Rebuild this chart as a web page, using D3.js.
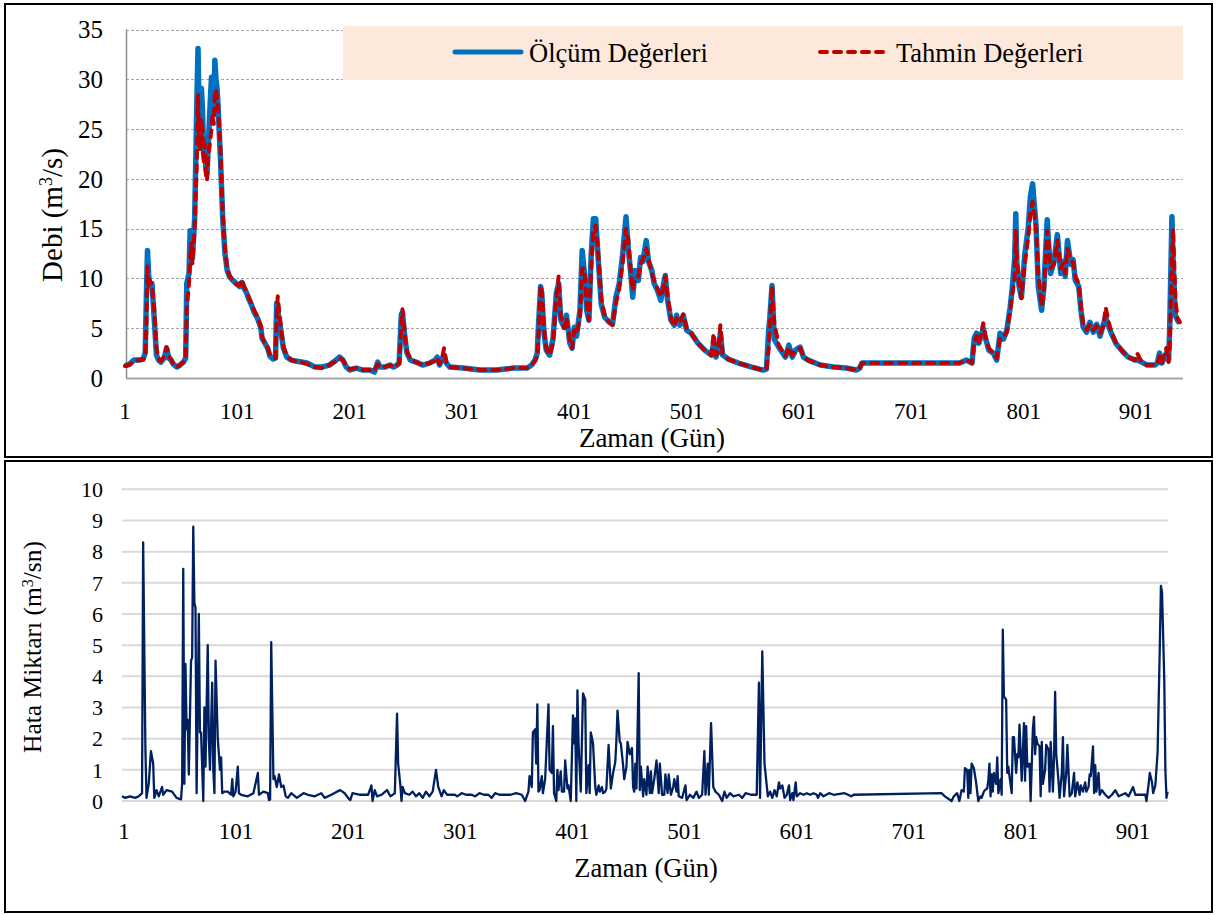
<!DOCTYPE html>
<html>
<head>
<meta charset="utf-8">
<script src="https://cdn.jsdelivr.net/npm/d3@7"></script>
<style>
  body { margin: 0; background: #fff; }
  svg text { font-family: "Liberation Serif", "Times New Roman", serif; fill: #000; }
</style>
</head>
<body>
<svg id="chart" width="1217" height="915"></svg>
<script>
const gun = [1,5,9,14,17,19,20,21,22,23,25,27,29,31,33,36,38,40,42,44,47,50,53,55,56,58,59,60,61,63,65,66,67,68,69,70,71,72,73,74,75,77,78,79,80,81,82,83,84,86,87,88,90,92,94,97,100,103,105,107,109,111,113,116,119,122,123,125,128,130,133,135,136,137,138,140,142,145,149,153,158,163,170,176,183,189,192,195,198,201,207,213,219,223,226,228,232,237,240,243,245,246,247,248,250,252,255,260,266,272,277,279,281,283,285,287,290,302,317,332,347,359,363,366,368,369,371,372,374,376,379,382,385,387,389,392,394,397,399,401,403,406,408,410,412,414,416,418,420,422,425,428,432,435,438,441,444,447,449,451,453,455,458,460,462,465,467,470,472,475,478,480,482,484,487,490,492,495,498,501,505,511,517,523,525,527,529,531,533,538,547,559,569,572,574,575,577,579,583,589,592,595,598,602,605,609,620,632,643,652,655,657,738,744,750,755,757,759,761,763,765,767,770,774,777,780,783,786,789,791,793,794,795,797,799,802,805,807,809,810,812,814,817,819,822,823,825,828,831,834,836,838,840,843,845,847,850,852,854,857,860,863,866,869,872,874,877,879,883,888,894,900,902,906,911,918,920,922,924,926,928,930,931,933,934,936,938,940];
const olcum = [1.2,1.4,1.8,1.8,1.9,2.5,8.0,12.8,10.5,9.2,9.5,6.0,2.3,1.8,1.6,2.0,3.0,2.0,1.8,1.4,1.1,1.3,1.6,2.0,9.5,10.5,14.8,14.0,12.0,16.0,28.0,33.1,26.0,24.0,29.1,27.0,22.5,24.0,21.0,20.5,23.0,28.0,30.2,28.0,26.5,31.9,30.0,29.0,27.0,22.0,19.0,16.0,12.5,10.8,10.2,9.8,9.5,9.2,9.6,9.0,8.6,8.0,7.5,6.6,6.0,5.0,4.0,3.6,3.0,2.2,1.9,2.0,7.5,6.8,6.0,4.5,3.0,2.1,1.8,1.7,1.6,1.5,1.1,1.1,1.3,1.8,2.1,1.8,1.1,0.8,1.0,0.8,0.8,0.6,1.6,1.1,1.1,1.3,1.1,1.3,1.5,3.9,6.4,6.6,4.2,2.5,1.8,1.6,1.3,1.5,1.8,2.1,1.3,1.9,2.3,1.5,1.1,1.0,0.8,0.8,1.0,1.0,1.3,1.8,2.5,5.1,9.2,8.5,4.5,2.8,2.3,3.9,8.5,9.5,5.8,5.1,6.3,3.5,3.0,5.1,4.2,6.8,12.8,10.5,6.8,5.8,12.4,16.0,16.0,12.4,7.4,6.1,5.6,5.4,8.1,9.5,12.4,16.2,13.0,10.8,8.1,10.8,9.8,12.1,11.7,13.8,11.7,10.8,9.5,8.8,7.8,9.2,10.3,7.8,5.8,5.3,6.3,5.3,6.3,4.8,4.5,3.5,2.8,2.3,3.5,2.1,2.8,4.5,2.3,1.9,1.5,1.1,0.8,0.9,4.8,6.0,9.3,3.9,3.1,2.1,3.3,2.1,2.8,3.1,2.1,1.8,1.3,1.1,1.0,0.8,1.0,1.5,1.5,1.5,1.8,1.5,4.0,4.5,3.5,4.2,5.0,4.0,2.8,2.5,1.8,4.5,3.9,4.8,7.1,9.2,12.0,16.5,11.2,9.2,8.1,12.4,15.0,18.2,19.5,18.0,15.4,9.2,6.8,9.2,15.9,13.8,10.5,11.7,14.4,10.5,11.7,10.2,13.8,11.4,11.9,9.8,9.2,6.8,5.1,4.6,5.6,4.6,5.4,4.2,5.4,6.1,5.1,4.5,3.5,2.8,2.1,1.8,1.8,1.6,1.3,1.3,1.5,2.5,1.5,2.0,2.5,1.8,5.0,16.2,12.0,6.3,5.8,5.5];
const tahmin = [1.2,1.3,1.7,1.8,1.8,2.2,5.0,11.2,9.0,9.8,9.3,7.0,3.0,1.9,1.7,2.2,3.1,2.2,1.9,1.4,1.1,1.3,1.6,1.9,7.0,9.5,12.0,13.5,11.5,15.0,22.0,28.5,24.0,23.0,26.0,25.0,21.5,23.5,20.5,19.8,22.0,24.0,25.0,26.5,25.5,28.5,29.0,28.0,27.0,23.0,19.5,16.5,13.0,11.0,10.3,9.7,9.4,9.3,9.9,9.2,8.8,8.2,7.6,6.8,6.1,5.2,4.2,3.6,3.1,2.3,2.0,2.0,6.0,8.2,7.0,5.0,3.2,2.2,1.8,1.7,1.6,1.4,1.1,1.0,1.3,1.7,2.0,1.8,1.2,0.9,1.0,0.8,0.8,0.7,1.4,1.1,1.1,1.3,1.1,1.3,1.4,3.0,5.5,6.9,4.5,2.7,1.9,1.6,1.3,1.5,1.7,2.0,1.4,1.8,3.0,1.6,1.1,1.0,0.8,0.8,1.0,1.0,1.3,1.7,2.2,4.0,9.3,8.8,5.0,3.0,2.3,3.5,8.0,10.2,6.2,5.0,6.0,3.8,3.0,4.8,4.4,6.0,11.0,11.0,7.5,5.8,11.0,15.0,15.3,13.0,8.0,6.3,5.6,5.3,7.5,9.0,11.5,15.0,14.0,11.0,8.8,10.0,10.2,11.5,11.9,13.0,12.0,10.5,9.8,9.0,8.2,8.8,10.2,8.3,6.0,5.2,6.0,5.5,6.4,5.0,4.5,3.5,2.8,2.3,4.5,2.3,2.6,5.3,2.4,1.9,1.5,1.1,0.8,0.9,3.0,5.0,9.2,5.5,3.3,2.2,3.1,2.3,2.7,3.0,2.2,1.8,1.3,1.1,1.0,0.8,1.0,1.5,1.5,1.5,1.8,1.5,3.6,4.2,3.4,4.3,5.5,4.2,3.0,2.5,2.0,4.0,4.1,4.6,6.8,8.5,10.0,14.8,12.0,9.6,8.0,11.5,14.0,16.5,17.7,17.0,15.0,10.5,7.2,8.5,14.8,14.0,11.0,11.4,13.8,11.0,11.5,10.5,13.0,11.8,11.6,10.2,9.5,7.2,5.4,4.8,5.4,4.8,5.2,4.5,5.2,7.1,5.5,4.6,3.6,2.8,2.1,1.8,2.5,1.6,1.3,1.3,1.4,2.2,1.5,2.3,3.0,1.6,3.0,12.0,15.0,8.0,6.0,5.6];

// bottom panel: error amount
const hataGun = [1,4,8,13,16,19,20,22,23,25,27,29,30,32,34,37,38,41,46,50,54,55,56,57,58,59,60,61,63,64,65,66,67,68,70,71,72,74,75,76,78,79,80,82,83,84,85,87,89,90,91,93,96,99,100,101,103,105,106,108,114,119,123,124,128,132,133,134,135,137,138,140,142,144,146,148,150,153,158,164,168,174,180,183,189,194,197,201,204,206,208,215,222,225,226,228,230,234,239,242,246,248,249,251,252,253,255,259,262,265,268,271,274,277,280,283,285,288,290,293,300,302,306,310,315,318,322,326,330,333,336,340,344,350,355,360,363,366,367,369,370,372,373,374,375,376,378,379,381,384,385,387,388,389,391,392,393,395,396,398,399,401,402,404,406,407,408,409,410,411,413,415,417,418,420,421,422,424,426,427,429,430,432,433,435,436,438,440,442,444,445,446,448,449,451,452,454,455,457,458,459,460,461,462,463,465,466,467,469,470,472,473,475,476,477,479,481,483,484,486,488,489,491,492,494,496,497,499,500,501,504,507,508,511,514,517,519,522,524,525,527,528,530,532,534,537,540,542,544,547,550,555,558,561,566,571,573,574,576,578,581,583,585,587,589,591,592,594,596,598,600,601,603,604,606,607,610,613,616,619,622,625,626,628,631,636,640,650,653,656,658,737,740,746,748,751,753,755,757,758,760,761,762,763,764,766,768,770,772,773,775,776,778,779,780,781,782,783,784,786,787,788,790,791,792,793,795,796,797,798,800,801,802,804,805,806,807,809,810,811,812,813,814,816,817,819,820,821,822,823,825,826,827,828,830,831,833,834,835,837,838,839,840,842,843,845,846,847,849,850,852,854,856,857,859,861,862,864,866,867,869,870,871,873,874,875,876,878,879,881,884,887,890,893,896,899,902,905,909,911,920,921,923,924,926,927,929,931,933,934,935,937,938,939,940];
const hata = [0.15,0.1,0.15,0.1,0.15,0.25,8.3,1.7,0.1,0.55,1.6,1.2,0.1,0.35,0.15,0.45,0.2,0.35,0.3,0.1,0.05,0.55,7.45,0.55,4.4,2.3,2.6,0.85,4.5,4.6,8.8,6.35,6.2,0.25,6.0,2.2,2.2,0,3.0,1.1,5.0,2.0,1.0,3.8,1.0,0.25,4.5,2.0,1.0,1.4,0.25,0.3,0.3,0.2,0.7,0.15,0.3,1.1,0.25,0.2,0.15,0.25,0.9,0.2,0.3,0.25,0.03,0.05,5.1,0.7,0.8,0.45,0.85,0.45,0.5,0.15,0.1,0.25,0.1,0.25,0.2,0.15,0.25,0.1,0.2,0.3,0.35,0.25,0.1,0.03,0.25,0.2,0.2,0.5,0,0.35,0.15,0.2,0.35,0.15,0.25,2.8,1.2,0.5,0,0.45,0.25,0.2,0.3,0.15,0.25,0.1,0.3,0.15,0.3,1.0,0.45,0.15,0.35,0.2,0.2,0.15,0.25,0.2,0.2,0.15,0.25,0.2,0.2,0.1,0.25,0.2,0.2,0.2,0.25,0.2,0,0.3,0.8,0.45,2.2,2.3,1.2,3.1,0.3,0.35,0.8,0.25,0.7,3.1,1.0,0.9,2.4,0.25,0,1.0,0.35,0.95,0.3,0.3,1.3,0.4,0.5,0,2.75,1.85,2.65,0,3.55,1.85,0.3,3.45,3.25,0.25,1.15,0.25,2.2,1.85,0.45,0.2,0.5,0.3,0.45,0.25,0.3,0.4,1.8,0.4,0.9,1.25,1.95,2.9,1.9,1.85,1.15,0.7,1.1,1.9,1.5,1.6,1.7,0.45,0.3,1.2,0.4,4.1,0.35,1.1,0.15,0.7,0.2,1.1,0.25,0.95,0.25,0.7,1.3,0.25,1.2,0.2,0.2,0.85,0.25,0.85,0.2,0.45,0.7,0.3,0.8,0.15,0.1,0.5,0.03,0.2,0.1,0.3,0.1,0.2,1.6,0.2,1.2,0.2,2.5,0.45,0.3,0.2,0,0.3,0.1,0.25,0.15,0.2,0.1,0.25,0.2,0.2,3.8,0.1,4.8,1.2,0.15,0.3,0.1,0.35,0.15,0.6,0.4,0.5,0.1,0.2,0.5,0.03,0.25,0.03,0.6,0.15,0.25,0.2,0.25,0.2,0.25,0.2,0.1,0.25,0.15,0.25,0.2,0.25,0.2,0.15,0.2,0.25,0.15,0,0.15,0.25,0,0.35,0.3,1.05,1.0,0.1,1.0,0.25,1.2,1.05,0.6,0,0.15,0.1,0.3,0.35,0.4,0.65,1.2,0.15,0.85,0.3,0.9,0.55,1.4,0.25,0.7,0.2,5.5,3.35,3.25,0.9,1.1,0.8,0.25,2.05,2.05,0.9,1.5,1.4,2.45,0.65,1.55,2.5,0.65,2.4,1.1,1.2,0,2.3,2.7,1.5,2.05,1.85,1.75,0.15,1.9,0.55,1.0,1.8,1.65,0.3,1.9,0.3,1.4,3.5,1.5,0.65,0.1,0.9,2.05,0.15,0.9,1.8,0.15,0.25,0.9,0.15,0.6,0.2,0.5,0.3,0.6,0.3,0.45,0.85,0.8,1.75,0.25,1.15,0.3,0.9,0.2,0.35,0.2,0.1,0.2,0.35,0.15,0.2,0.25,0.15,0.45,0.2,0.2,0,0.55,0.9,0.6,0.25,0.5,1.55,4.95,6.9,6.7,3.9,1.0,0.1,0.3];

const gunTicks = [1,101,201,301,401,501,601,701,801,901];
const debiTicks = [0,5,10,15,20,25,30,35];
const hataTicks = [0,1,2,3,4,5,6,7,8,9,10];

const svg = d3.select("#chart");

// panel frames
svg.append("rect").attr("x", 5).attr("y", 4).attr("width", 1207).attr("height", 453)
  .attr("fill", "none").attr("stroke", "#000").attr("stroke-width", 2);
svg.append("rect").attr("x", 5).attr("y", 461).attr("width", 1207).attr("height", 451)
  .attr("fill", "none").attr("stroke", "#000").attr("stroke-width", 2);

// ---------- top panel ----------
const x1 = d3.scaleLinear().domain([1, 940]).range([125, 1179.8]);
const y1 = d3.scaleLinear().domain([0, 35]).range([378, 29.5]);
const gTop = svg.append("g");

gTop.selectAll("line.grid").data(debiTicks.filter(d => d > 0)).join("line")
  .attr("x1", 126).attr("x2", 1183)
  .attr("y1", d => Math.round(y1(d)) + 0.5).attr("y2", d => Math.round(y1(d)) + 0.5)
  .attr("stroke", "#a6a6a6").attr("stroke-width", 1).attr("stroke-dasharray", "3,2");

// legend box (over the grid, under the lines)
const leg = gTop.append("g");
leg.append("rect").attr("x", 343).attr("y", 26).attr("width", 840).attr("height", 54).attr("fill", "#fce9db");

gTop.append("line").attr("x1", 126.5).attr("x2", 126.5).attr("y1", 29.5).attr("y2", 378)
  .attr("stroke", "#8c8c8c").attr("stroke-width", 1.5);
gTop.append("line").attr("x1", 126).attr("x2", 1183).attr("y1", 378.5).attr("y2", 378.5)
  .attr("stroke", "#a6a6a6").attr("stroke-width", 2);

gTop.selectAll("text.yt").data(debiTicks).join("text")
  .attr("x", 103).attr("y", d => y1(d)).attr("dy", "0.35em")
  .attr("text-anchor", "end").attr("font-size", 25).text(d => d);
gTop.selectAll("text.xt").data(gunTicks).join("text")
  .attr("x", d => x1(d)).attr("y", 419)
  .attr("text-anchor", "middle").attr("font-size", 23).text(d => d);
gTop.append("text").attr("x", 652).attr("y", 447).attr("text-anchor", "middle")
  .attr("font-size", 27).text("Zaman (Gün)");
const yl1 = gTop.append("text").attr("transform", "translate(62,215) rotate(-90)")
  .attr("text-anchor", "middle").attr("font-size", 29);
yl1.append("tspan").text("Debi (m");
yl1.append("tspan").attr("baseline-shift", "super").attr("font-size", 18).text("3");
yl1.append("tspan").text("/s)");

const line1 = d3.line().x((d, i) => x1(gun[i])).y(d => y1(d));
gTop.append("path").datum(olcum).attr("d", line1).attr("fill", "none")
  .attr("stroke", "#0070c0").attr("stroke-width", 5.5).attr("stroke-linejoin", "round");
gTop.append("path").datum(tahmin).attr("d", line1).attr("fill", "none")
  .attr("stroke", "#c00000").attr("stroke-width", 4).attr("stroke-linecap", "round")
  .attr("stroke-linejoin", "round").attr("stroke-dasharray", "7,7");

// legend entries
leg.append("line").attr("x1", 455).attr("x2", 521).attr("y1", 52).attr("y2", 52)
  .attr("stroke", "#0070c0").attr("stroke-width", 5).attr("stroke-linecap", "round");
leg.append("text").attr("x", 529).attr("y", 62).attr("font-size", 26.5).text("Ölçüm Değerleri");
leg.append("line").attr("x1", 820).attr("x2", 886).attr("y1", 52).attr("y2", 52)
  .attr("stroke", "#c00000").attr("stroke-width", 4).attr("stroke-linecap", "round")
  .attr("stroke-dasharray", "7,7");
leg.append("text").attr("x", 896).attr("y", 62).attr("font-size", 26.5).text("Tahmin Değerleri");

// ---------- bottom panel ----------
const x2 = d3.scaleLinear().domain([1, 940]).range([122, 1167.6]);
const y2 = d3.scaleLinear().domain([0, 10]).range([801, 489.3]);
// the category labels of this panel sit a little to the right of the points
const x2lab = d3.scaleLinear().domain([1, 901]).range([124, 1133]);
const gBot = svg.append("g");

gBot.selectAll("line.grid").data(hataTicks).join("line")
  .attr("x1", 122).attr("x2", 1168)
  .attr("y1", d => y2(d)).attr("y2", d => y2(d))
  .attr("stroke", "#d9d9d9").attr("stroke-width", 2);

gBot.selectAll("text.yt").data(hataTicks).join("text")
  .attr("x", 103).attr("y", d => y2(d)).attr("dy", "0.35em")
  .attr("text-anchor", "end").attr("font-size", 22).text(d => d);
gBot.selectAll("text.xt").data(gunTicks).join("text")
  .attr("x", d => x2lab(d)).attr("y", 839)
  .attr("text-anchor", "middle").attr("font-size", 23).text(d => d);
gBot.append("text").attr("x", 646).attr("y", 877).attr("text-anchor", "middle")
  .attr("font-size", 26.5).text("Zaman (Gün)");
const yl2 = gBot.append("text").attr("transform", "translate(41,647) rotate(-90)")
  .attr("text-anchor", "middle").attr("font-size", 25.5);
yl2.append("tspan").text("Hata Miktarı (m");
yl2.append("tspan").attr("baseline-shift", "super").attr("font-size", 16).text("3");
yl2.append("tspan").text("/sn)");

const line2 = d3.line().x((d, i) => x2(hataGun[i])).y(d => y2(d));
gBot.append("path").datum(hata).attr("d", line2).attr("fill", "none")
  .attr("stroke", "#002060").attr("stroke-width", 2.3).attr("stroke-linejoin", "round");
</script>
</body>
</html>
